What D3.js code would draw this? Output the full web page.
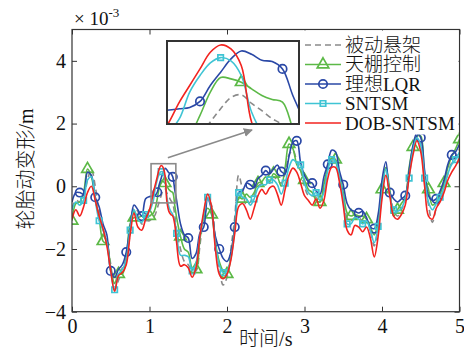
<!DOCTYPE html>
<html lang="zh">
<head>
<meta charset="UTF-8">
<title>轮胎动变形</title>
<script src="https://cdn.jsdelivr.net/npm/d3@7"></script>
<style>
    body { margin: 0; background: #fff; }
    svg { display: block; font-family: "Liberation Serif", "Noto Sans CJK SC", serif; }
</style>
</head>
<body>
<svg id="chart" width="464" height="360"></svg>
<script>
    // time grid (s), denser around the zoomed peak
    var time = [0, 0.05, 0.1, 0.15, 0.2, 0.25, 0.3, 0.35, 0.4, 0.45, 0.5, 0.55, 0.6, 0.65, 0.7, 0.75, 0.8, 0.85, 0.9, 0.95,
        1.0, 1.025, 1.05, 1.075, 1.1, 1.125, 1.15, 1.175, 1.2, 1.225, 1.25, 1.275, 1.3, 1.325, 1.35,
        1.4, 1.45, 1.5, 1.55, 1.6, 1.65, 1.7, 1.75, 1.8, 1.85, 1.9, 1.95, 2.0, 2.05, 2.1, 2.15, 2.2, 2.25, 2.3, 2.35,
        2.4, 2.45, 2.5, 2.55, 2.6, 2.65, 2.7, 2.75, 2.8, 2.85, 2.9, 2.95, 3.0, 3.05, 3.1, 3.15, 3.2, 3.25, 3.3, 3.35,
        3.4, 3.45, 3.5, 3.55, 3.6, 3.65, 3.7, 3.75, 3.8, 3.85, 3.9, 3.95, 4.0, 4.05, 4.1, 4.15, 4.2, 4.25, 4.3, 4.35,
        4.4, 4.45, 4.5, 4.55, 4.6, 4.65, 4.7, 4.75, 4.8, 4.85, 4.9, 4.95, 5.0]

    // tyre deflection, x 10^-3 m
    var passive = [-0.7, -0.45, -0.5, -0.35, 0.2, 0.55, 0.0, -0.8, -1.35, -1.75, -2.5, -3.3, -3.0, -2.6, -2.3, -1.5, -0.7, -0.8, -1.2, -1.1,
        -1.1, -1.05, -1.0, -0.9, -0.7, -0.5, -0.3, -0.13, -0.09, -0.22, -0.33, -0.45, -0.55, -0.9, -1.4,
        -2.0, -2.4, -2.5, -2.7, -2.7, -1.9, -0.9, -0.4, -0.6, -1.7, -2.6, -3.15, -2.9, -2.0, -1.0, 0.35, -0.1, -0.6, -0.5, -0.3,
        0.0, 0.1, 0.2, 0.1, 0.3, 0.2, 0.1, 0.4, 1.0, 1.15, 0.8, 0.5, 0.0, -0.3, -0.3, -0.35, -0.5, 0.0, 0.55, 0.8,
        0.75, 0.3, -0.3, -1.0, -1.1, -1.0, -1.0, -1.1, -1.1, -1.4, -1.9, -1.3, -0.2, 0.6, -0.2, -0.75, -0.95, -0.75, -0.45, 0.4,
        1.1, 1.55, 1.3, 0.3, -0.6, -1.15, -0.7, -0.4, -0.1, 0.4, 0.75, 0.9, 1.2]
    var skyhook = [-1.1, -0.55, -0.5, -0.2, 0.55, 0.3, -0.4, -1.0, -1.75, -1.85, -2.6, -3.1, -2.8, -2.8, -2.3, -1.2, -1.0, -1.0, -0.95, -0.95,
        -0.95, -0.9, -0.85, -0.7, -0.4, -0.05, 0.17, 0.15, 0.1, 0.0, -0.1, -0.16, -0.2, -0.6, -1.0,
        -1.6, -2.0, -2.1, -2.6, -2.65, -1.7, -1.0, -0.7, -0.9, -1.8, -2.4, -2.7, -2.8, -2.2, -1.3, -0.35, -0.4, -0.25, -0.35, -0.2,
        0.1, 0.15, 0.3, 0.15, 0.4, 0.3, 0.0, 0.6, 1.35, 1.2, 0.7, 0.5, 0.2, -0.1, -0.2, -0.45, -0.5, 0.05, 0.6, 0.9,
        0.85, 0.35, -0.2, -0.85, -0.95, -0.9, -0.95, -0.95, -1.05, -1.3, -1.55, -1.1, -0.1, 0.6, -0.1, -0.95, -0.75, -0.55, -0.35, 0.6,
        1.25, 1.6, 1.6, 0.3, -0.1, -0.6, -0.5, -0.25, 0.1, 0.6, 0.95, 1.2, 1.5]
    var lqr = [-0.5, -0.2, -0.2, -0.25, 0.45, 0.35, -0.35, -0.65, -1.2, -1.55, -2.7, -2.9, -2.65, -2.5, -2.1, -1.3, -0.6, -0.75, -0.95, -0.4,
        -0.33, -0.32, -0.3, -0.28, -0.19, 0.05, 0.25, 0.45, 0.57, 0.52, 0.43, 0.41, 0.3, -0.1, -0.45,
        -1.2, -1.55, -1.65, -2.3, -2.15, -1.5, -1.3, -0.4, -0.75, -1.6, -2.0, -2.3, -2.4, -2.1, -1.3, -0.2, -0.15, 0.1, 0.05, -0.05,
        0.25, 0.35, 0.5, 0.4, 0.55, 0.68, 0.47, 0.4, 0.95, 1.4, 1.45, 0.75, 0.35, 0.15, 0.1, -0.15, -0.25, 0.3, 0.7, 1.15,
        1.1, 0.5, 0.05, -0.55, -0.75, -0.8, -0.85, -0.8, -1.0, -1.3, -1.35, -0.9, 0.2, 0.78, -0.2, -0.4, -0.5, -0.4, -0.3, 0.5,
        1.3, 1.7, 1.55, 0.5, -0.3, -0.45, -0.4, -0.15, 0.2, 0.7, 1.0, 1.1, 1.35]
    var sntsm = [-0.75, -0.5, -0.6, -0.45, 0.2, 0.3, -0.45, -1.1, -1.4, -1.8, -2.75, -3.3, -2.8, -2.65, -2.35, -1.4, -0.75, -1.05, -1.15, -0.9,
        -0.8, -0.65, -0.45, -0.05, 0.2, 0.39, 0.47, 0.42, 0.2, -0.35, -0.65, -0.8, -0.9, -1.1, -1.5,
        -2.2, -2.2, -2.25, -2.7, -2.45, -1.6, -0.9, -0.35, -0.7, -1.85, -2.5, -2.75, -2.7, -2.3, -1.4, -0.2, -0.35, -0.4, -0.6, -0.4,
        -0.05, 0.05, 0.05, 0.2, 0.2, 0.05, -0.25, 0.1, 0.6, 0.85, 0.75, 0.68, 0.1, -0.2, -0.3, -0.2, -0.45, -0.2, 0.5, 0.85,
        0.8, 0.3, -0.35, -1.2, -1.2, -1.0, -1.05, -1.2, -1.1, -1.4, -1.8, -1.28, -0.2, 0.55, -0.25, -0.75, -0.8, -0.7, -0.4, 0.26,
        1.15, 1.55, 1.3, 0.26, -0.5, -0.75, -0.55, -0.35, -0.05, 0.4, 0.7, 0.85, 1.1]
    var dobSntsm = [-1.05, -0.75, -0.95, -0.65, -0.2, 0.0, -0.45, -0.95, -1.35, -1.9, -2.7, -3.35, -2.85, -2.75, -2.5, -1.55, -0.85, -1.3, -1.4, -1.05,
        -0.75, -0.5, -0.2, 0.05, 0.3, 0.55, 0.66, 0.6, 0.35, -0.5, -0.8, -0.9, -0.95, -1.2, -1.8,
        -2.55, -2.5, -2.6, -2.9, -2.6, -1.6, -0.8, -0.25, -0.65, -2.0, -2.8, -2.95, -2.8, -2.35, -1.5, -0.65, -0.55, -0.75, -1.05, -0.7,
        -0.3, -0.1, -0.25, -0.05, 0.0, -0.25, -0.6, -0.1, 0.35, 0.58, 0.45, 0.1, -0.3, -0.45, -0.6, -0.4, -0.7, -0.45, 0.25, 0.6,
        0.6, 0.15, -0.6, -1.4, -1.55, -1.25, -1.3, -1.45, -1.3, -1.65, -2.25, -1.6, -0.4, 0.35, -0.3, -0.95, -1.05, -0.9, -0.6, 0.3,
        1.0, 1.45, 1.1, 0.0, -0.95, -1.05, -0.7, -0.5, -0.2, 0.2, 0.45, 0.65, 0.9]

    var legendNames = ['被动悬架', '天棚控制', '理想LQR', 'SNTSM', 'DOB-SNTSM']
    var xTicks = [0, 1, 2, 3, 4, 5]
    var yTicks = [-4, -2, 0, 2, 4]
    var zoomTime = [1.02, 1.34]
    var zoomValue = [-0.53, 0.72]

    var M = {left: 72, right: 459.5, top: 29.5, bottom: 311.7}
    var INSET = {left: 167, right: 299, top: 41, bottom: 124}
    var MARK_STEP = 0.2

    var series = [
        {name: legendNames[0], values: passive, color: '#8a8a8a', dash: '6,4', marker: null},
        {name: legendNames[1], values: skyhook, color: '#5cb947', marker: d3.symbolTriangle, size: 58, offset: 0},
        {name: legendNames[2], values: lqr, color: '#2a48a6', marker: d3.symbolCircle, size: 56, offset: 0.1},
        {name: legendNames[3], values: sntsm, color: '#3fc4d4', marker: d3.symbolSquare, size: 30, offset: 0.15},
        {name: legendNames[4], values: dobSntsm, color: '#f2231f', marker: null}
    ]

    var svg = d3.select('#chart')
    var x = d3.scaleLinear().domain([0, 5]).range([M.left, M.right])
    var y = d3.scaleLinear().domain([-4, 5]).range([M.bottom, M.top])

    var defs = svg.append('defs')
    defs.append('clipPath').attr('id', 'clipMain').append('rect')
        .attr('x', M.left).attr('y', M.top).attr('width', M.right - M.left).attr('height', M.bottom - M.top)
    defs.append('clipPath').attr('id', 'clipInset').append('rect')
        .attr('x', INSET.left).attr('y', INSET.top).attr('width', INSET.right - INSET.left).attr('height', INSET.bottom - INSET.top)
    defs.append('marker').attr('id', 'arrow').attr('viewBox', '0 0 10 10').attr('refX', 9).attr('refY', 5)
        .attr('markerWidth', 9).attr('markerHeight', 9).attr('markerUnits', 'userSpaceOnUse').attr('orient', 'auto')
        .append('path').attr('d', 'M0,0 L10,5 L0,10 Z').attr('fill', '#8a8a8a')

    function isMarked (t, s) {
        var k = (t - s.offset) / MARK_STEP
        return Math.abs(k - Math.round(k)) < 1e-6 && k > -1e-6
    }

    function drawSeries (g, sx, sy, clipId) {
        var layer = g.append('g').attr('clip-path', 'url(#' + clipId + ')')
        series.forEach(function (s) {
            var pts = time.map(function (t, i) { return [t, s.values[i]] })
            var line = d3.line().x(function (d) { return sx(d[0]) }).y(function (d) { return sy(d[1]) })
                .curve(d3.curveCatmullRom.alpha(0.5))
            layer.append('path').attr('d', line(pts)).attr('fill', 'none')
                .attr('stroke', s.color).attr('stroke-width', 1.6)
                .attr('stroke-dasharray', s.dash || null)
            if (s.marker) {
                var sym = d3.symbol().type(s.marker).size(s.size)
                layer.selectAll(null).data(pts.filter(function (d) { return isMarked(d[0], s) }))
                    .enter().append('path').attr('d', sym)
                    .attr('transform', function (d) { return 'translate(' + sx(d[0]) + ',' + sy(d[1]) + ')' })
                    .attr('fill', 'none').attr('stroke', s.color).attr('stroke-width', 1.7)
            }
        })
    }

    drawSeries(svg, x, y, 'clipMain')

    // axes, ticks pointing inward
    var fmt = function (d) { return d < 0 ? '\u2212' + Math.abs(d) : String(d) }
    var axB = svg.append('g').attr('transform', 'translate(0,' + M.bottom + ')')
        .call(d3.axisBottom(x).tickValues(xTicks).tickSize(-5).tickPadding(7).tickFormat(fmt))
    var axL = svg.append('g').attr('transform', 'translate(' + M.left + ',0)')
        .call(d3.axisLeft(y).tickValues(yTicks).tickSize(-5).tickPadding(6).tickFormat(fmt))
    var axT = svg.append('g').attr('transform', 'translate(0,' + M.top + ')')
        .call(d3.axisTop(x).tickValues(xTicks).tickSize(-5).tickFormat(''))
    var axR = svg.append('g').attr('transform', 'translate(' + M.right + ',0)')
        .call(d3.axisRight(y).tickValues(yTicks).tickSize(-5).tickFormat(''))
    ;[axB, axL, axT, axR].forEach(function (a) {
        a.select('.domain').remove()
        a.selectAll('line').attr('stroke', '#333').attr('stroke-width', 1)
        a.selectAll('text').attr('font-family', '"Liberation Serif", serif').attr('font-size', 20).attr('fill', '#111')
    })

    svg.append('rect').attr('x', M.left).attr('y', M.top).attr('width', M.right - M.left).attr('height', M.bottom - M.top)
        .attr('fill', 'none').attr('stroke', '#333').attr('stroke-width', 1.2)

    // legend (white box under the top-right corner)
    var lg = svg.append('g')
    lg.append('rect').attr('x', 303).attr('y', M.top + 1).attr('width', M.right - 304).attr('height', 104).attr('fill', '#fff')
    series.forEach(function (s, i) {
        var cy = 45 + i * 19.5
        lg.append('line').attr('x1', 305).attr('x2', 341).attr('y1', cy).attr('y2', cy)
            .attr('stroke', s.color).attr('stroke-width', 1.6).attr('stroke-dasharray', s.dash || null)
        if (s.marker) {
            lg.append('path').attr('d', d3.symbol().type(s.marker).size(s.size))
                .attr('transform', 'translate(323,' + cy + ')')
                .attr('fill', 'none').attr('stroke', s.color).attr('stroke-width', 1.7)
        }
        lg.append('text').attr('x', 345).attr('y', cy + 6.5).attr('font-size', 19).attr('font-weight', 300)
            .attr('fill', '#111').text(s.name)
    })

    // zoom box, arrow, inset
    var bx0 = x(zoomTime[0]), bx1 = x(zoomTime[1]), by0 = y(zoomValue[1]), by1 = y(zoomValue[0])
    svg.append('rect').attr('x', bx0).attr('y', by0).attr('width', bx1 - bx0).attr('height', by1 - by0)
        .attr('fill', 'none').attr('stroke', '#8a8a8a').attr('stroke-width', 1.6)
    svg.append('line').attr('x1', bx1 - 8).attr('y1', by0 - 6).attr('x2', INSET.left + 85).attr('y2', INSET.bottom + 6)
        .attr('stroke', '#8a8a8a').attr('stroke-width', 1.6).attr('marker-end', 'url(#arrow)')

    var xi = d3.scaleLinear().domain(zoomTime).range([INSET.left, INSET.right])
    var yi = d3.scaleLinear().domain(zoomValue).range([INSET.bottom, INSET.top])
    svg.append('rect').attr('x', INSET.left).attr('y', INSET.top)
        .attr('width', INSET.right - INSET.left).attr('height', INSET.bottom - INSET.top).attr('fill', '#fff')
    drawSeries(svg, xi, yi, 'clipInset')
    svg.append('rect').attr('x', INSET.left).attr('y', INSET.top)
        .attr('width', INSET.right - INSET.left).attr('height', INSET.bottom - INSET.top)
        .attr('fill', 'none').attr('stroke', '#333').attr('stroke-width', 2)

    // labels
    var ex = svg.append('text').attr('x', 74).attr('y', 25).attr('font-size', 19).attr('fill', '#111')
    ex.append('tspan').text('\u00d7 10')
    ex.append('tspan').attr('dy', -8).attr('font-size', 13).text('-3')

    svg.append('text').attr('x', (M.left + M.right) / 2).attr('y', 346).attr('text-anchor', 'middle')
        .attr('font-size', 20).attr('font-weight', 300).attr('fill', '#111').text('时间/s')
    svg.append('text').attr('transform', 'translate(33,' + 169 + ') rotate(-90)').attr('text-anchor', 'middle')
        .attr('font-size', 20).attr('font-weight', 300).attr('fill', '#111').text('轮胎动变形/m')
</script>
</body>
</html>
